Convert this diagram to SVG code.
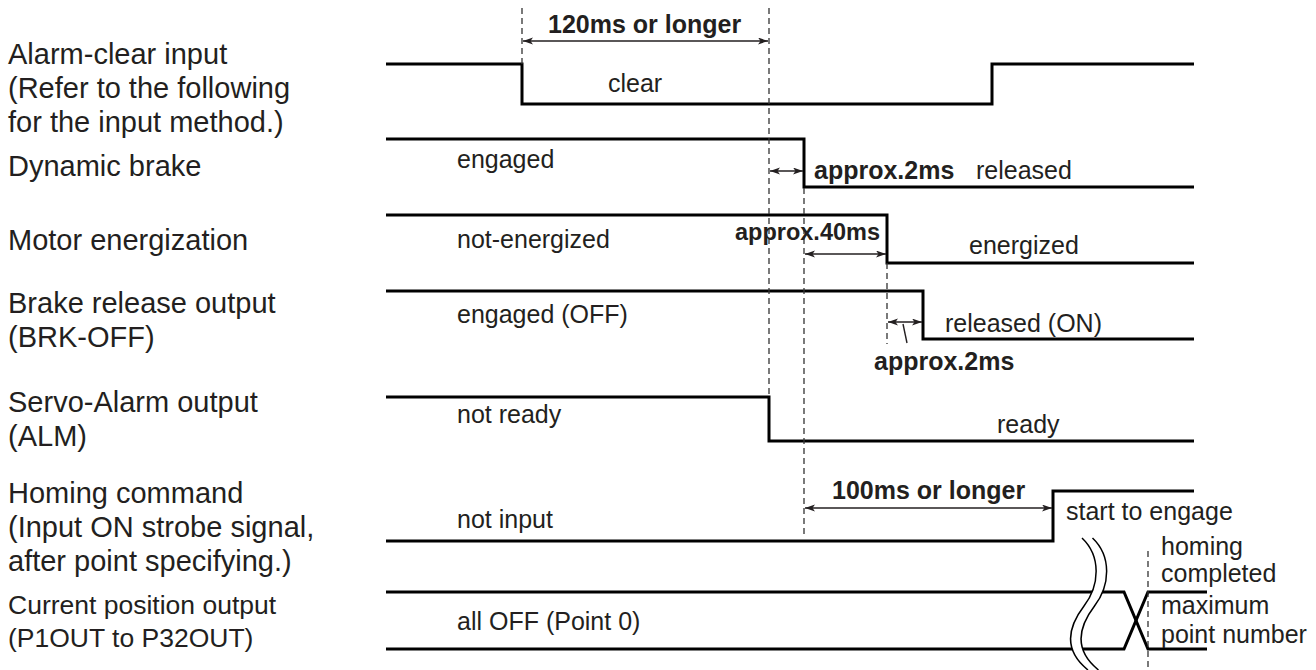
<svg xmlns="http://www.w3.org/2000/svg" width="1316" height="670" viewBox="0 0 1316 670">
<style>
text{font-family:"Liberation Sans",Arial,sans-serif;fill:#231f20}
.lbl{font-size:29px}
.lbs{font-size:26.5px}
.st{font-size:25px}
.b{font-size:25px;font-weight:bold}
.sig{fill:none;stroke:#000;stroke-width:3;stroke-linejoin:miter}
.dash{fill:none;stroke:#333;stroke-width:1.3;stroke-dasharray:6 4}
.arr{fill:none;stroke:#231f20;stroke-width:1.4;marker-start:url(#ah);marker-end:url(#ah)}
.thin{fill:none;stroke:#231f20;stroke-width:1.4}
.brk{fill:none;stroke:#000;stroke-width:1.5}
</style>
<defs>
<marker id="ah" markerUnits="userSpaceOnUse" markerWidth="11" markerHeight="8" refX="10" refY="3.5" orient="auto-start-reverse">
<path d="M0,0 L10,3.5 L0,7 L2.5,3.5 z" fill="#231f20"/>
</marker>
</defs>
<rect width="1316" height="670" fill="#fff"/>

<g id="labels">
<text class="lbl" x="8" y="64">Alarm-clear input</text>
<text class="lbl" x="8" y="98">(Refer to the following</text>
<text class="lbl" x="8" y="132">for the input method.)</text>
<text class="lbl" x="8" y="176">Dynamic brake</text>
<text class="lbl" x="8" y="250">Motor energization</text>
<text class="lbl" x="8" y="313">Brake release output</text>
<text class="lbl" x="8" y="347">(BRK-OFF)</text>
<text class="lbl" x="8" y="412">Servo-Alarm output</text>
<text class="lbl" x="8" y="446">(ALM)</text>
<text class="lbl" x="8" y="503">Homing command</text>
<text class="lbl" x="8" y="537">(Input ON strobe signal,</text>
<text class="lbl" x="8" y="571">after point specifying.)</text>
<text class="lbs" x="8" y="614">Current position output</text>
<text class="lbs" x="8" y="647">(P1OUT to P32OUT)</text>
</g>

<g id="sig-alarm-clear">
<path class="sig" d="M386,64 H522 V104 H992 V64 H1194"/>
<text class="st" x="608" y="92">clear</text>
</g>
<g id="sig-dynamic-brake">
<path class="sig" d="M386,139 H804 V187 H1194"/>
<text class="st" x="457" y="168">engaged</text>
<text class="st" x="976" y="179">released</text>
</g>
<g id="sig-motor">
<path class="sig" d="M386,215 H887 V263 H1194"/>
<text class="st" x="457" y="248">not-energized</text>
<text class="st" x="969" y="254">energized</text>
</g>
<g id="sig-brake-release">
<path class="sig" d="M386,291 H923 V339 H1194"/>
<text class="st" x="457" y="323">engaged (OFF)</text>
<text class="st" x="945" y="332">released (ON)</text>
</g>
<g id="sig-servo-alarm">
<path class="sig" d="M386,397 H769 V441 H1194"/>
<text class="st" x="457" y="423">not ready</text>
<text class="st" x="997" y="433">ready</text>
</g>
<g id="sig-homing">
<path class="sig" d="M386,541 H1053 V491 H1194"/>
<text class="st" x="457" y="528">not input</text>
<text class="st" x="1066" y="520">start to engage</text>
</g>
<g id="sig-current-position">
<path class="sig" d="M386,592 H1124 L1148,649 H1207"/>
<path class="sig" d="M386,649 H1124 L1148,592 H1207"/>
<text class="st" x="457" y="630">all OFF (Point 0)</text>
<text class="st" x="1161" y="555">homing</text>
<text class="st" x="1161" y="582">completed</text>
<text class="st" x="1161" y="614">maximum</text>
<text class="st" x="1161" y="643">point number</text>
</g>

<g id="break-mark">
<path d="M1082,538 C1101,556 1100,585 1084,606 C1068,627 1063,650 1088,670 L1098.5,670 C1073.5,650 1078.5,627 1094.5,606 C1110.5,585 1111.5,556 1092.5,538 Z" fill="#fff" stroke="none"/>
<path class="brk" d="M1082,538 C1101,556 1100,585 1084,606 C1068,627 1063,650 1088,670"/>
<path class="brk" d="M1092.5,538 C1111.5,556 1110.5,585 1094.5,606 C1078.5,627 1073.5,650 1098.5,670"/>
</g>

<g id="connectors">
<path class="dash" d="M522,8 V64"/>
<path class="dash" d="M769,8 V397"/>
<path class="dash" d="M804,188 V537"/>
<path class="dash" d="M887,263 V344"/>
<path class="dash" d="M1148,551 V670"/>
<path class="arr" d="M523,41 H768"/>
<path class="arr" d="M770,171 H803"/>
<path class="arr" d="M805,254 H886"/>
<path class="arr" d="M888,322 H922"/>
<path class="arr" d="M805,508 H1052"/>
<path class="thin" d="M903,324 L907,343"/>
</g>

<g id="timing-labels">
<text class="b" x="548" y="33">120ms or longer</text>
<text class="b" x="814" y="179">approx.2ms</text>
<text class="b" x="880" y="240" text-anchor="end" style="font-size:23.5px">approx.40ms</text>
<text class="b" x="874" y="370">approx.2ms</text>
<text class="b" x="832" y="499">100ms or longer</text>
</g>
</svg>
